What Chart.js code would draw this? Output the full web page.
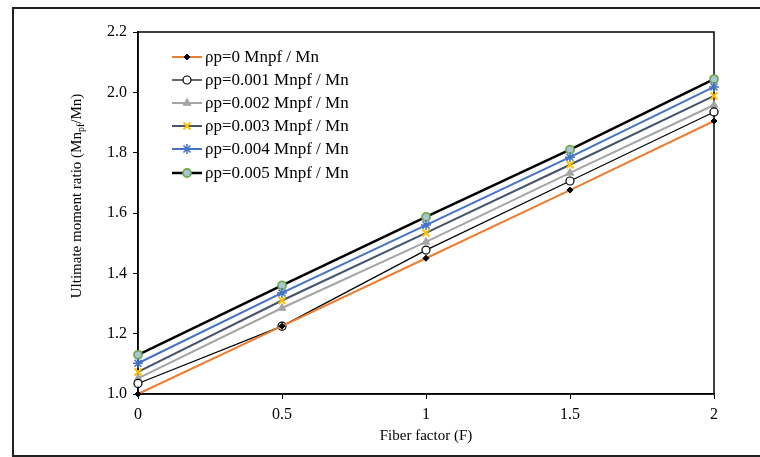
<!DOCTYPE html>
<html>
<head>
<meta charset="utf-8">
<script src="https://cdn.jsdelivr.net/npm/chart.js@4.4.1/dist/chart.umd.min.js"></script>
<style>
  html, body { margin: 0; padding: 0; background: #fff; }
  #wrap { position: relative; width: 760px; height: 457px; overflow: hidden; }
  #frame { position: absolute; left: 12px; top: 7px; width: 800px; height: 446px; border: 2px solid #222; box-sizing: content-box; }
  canvas { position: absolute; left: 0; top: 0; }
</style>
</head>
<body>
<div id="wrap">
  <div id="frame"></div>
  <canvas id="chart" width="760" height="457"></canvas>
</div>
<script>
// --- Data ---
const fiberFactor = [0, 0.5, 1, 1.5, 2];
const yTicks = [1.0, 1.2, 1.4, 1.6, 1.8, 2.0, 2.2];
const xTicks = [0, 0.5, 1, 1.5, 2];

const rp0   = [1.000, 1.225, 1.450, 1.676, 1.905];
const rp001 = [1.035, 1.225, 1.477, 1.706, 1.935];
const rp002 = [1.052, 1.285, 1.504, 1.733, 1.958];
const rp003 = [1.073, 1.310, 1.534, 1.760, 1.988];
const rp004 = [1.102, 1.335, 1.560, 1.785, 2.018];
const rp005 = [1.130, 1.360, 1.587, 1.810, 2.044];

const labels = [
    'ρp=0 Mnpf / Mn',
    'ρp=0.001 Mnpf / Mn',
    'ρp=0.002 Mnpf / Mn',
    'ρp=0.003 Mnpf / Mn',
    'ρp=0.004 Mnpf / Mn',
    'ρp=0.005 Mnpf / Mn'
];

const FONT = "'Liberation Serif', 'Times New Roman', serif";

function pts(arr) {
    return arr.map((v, i) => ({ x: fiberFactor[i], y: v }));
}

const datasets = [
    { label: labels[0], data: pts(rp0), borderColor: '#ED7D31', borderWidth: 2,
      pointStyle: 'rectRot', pointRadius: 3, pointBackgroundColor: '#000', pointBorderColor: '#000', pointBorderWidth: 1 },
    { label: labels[1], data: pts(rp001), borderColor: '#000', borderWidth: 1.2,
      pointStyle: 'circle', pointRadius: 4, pointBackgroundColor: '#fff', pointBorderColor: '#000', pointBorderWidth: 1.2 },
    { label: labels[2], data: pts(rp002), borderColor: '#A5A5A5', borderWidth: 2,
      pointStyle: 'triangle', pointRadius: 4.5, pointBackgroundColor: '#A5A5A5', pointBorderColor: '#A5A5A5', pointBorderWidth: 1 },
    { label: labels[3], data: pts(rp003), borderColor: '#44546A', borderWidth: 2,
      pointStyle: 'crossRot', pointRadius: 5, pointBackgroundColor: '#FFC000', pointBorderColor: '#FFC000', pointBorderWidth: 2 },
    { label: labels[4], data: pts(rp004), borderColor: '#4472C4', borderWidth: 2,
      pointStyle: 'star', pointRadius: 5, pointBackgroundColor: '#4472C4', pointBorderColor: '#4472C4', pointBorderWidth: 1.5 },
    { label: labels[5], data: pts(rp005), borderColor: '#000', borderWidth: 2.5,
      pointStyle: 'circle', pointRadius: 4, pointBackgroundColor: '#A9C4DC', pointBorderColor: '#70AD47', pointBorderWidth: 1.8 }
];
datasets.forEach(ds => { ds.clip = false; });

// --- Plugins ---
// box around plot area
const frameBox = {
    id: 'frameBox',
    beforeDatasetsDraw(chart) {
        const { ctx, chartArea: a } = chart;
        ctx.save();
        ctx.strokeStyle = '#000';
        ctx.lineWidth = 1.5;
        ctx.strokeRect(a.left, a.top, a.right - a.left, a.bottom - a.top);
        ctx.restore();
    }
};

// legend with line + marker, top-left inside plot
const lineLegend = {
    id: 'lineLegend',
    afterDraw(chart) {
        const ctx = chart.ctx;
        const x0 = 172, x1 = 202, tx = 205;
        const rowY = [57, 80, 103, 126, 149, 173];
        ctx.save();
        chart.data.datasets.forEach((ds, i) => {
            const y = rowY[i];
            ctx.beginPath();
            ctx.strokeStyle = ds.borderColor;
            ctx.lineWidth = ds.borderWidth;
            ctx.moveTo(x0, y);
            ctx.lineTo(x1, y);
            ctx.stroke();
            ctx.fillStyle = ds.pointBackgroundColor;
            ctx.strokeStyle = ds.pointBorderColor;
            ctx.lineWidth = ds.pointBorderWidth;
            Chart.helpers.drawPoint(ctx, {
                pointStyle: ds.pointStyle, radius: ds.pointRadius,
                borderWidth: ds.pointBorderWidth, rotation: 0
            }, (x0 + x1) / 2, y);
            ctx.fillStyle = '#000';
            ctx.font = '17px ' + FONT;
            ctx.textBaseline = 'middle';
            ctx.textAlign = 'left';
            ctx.fillText(ds.label, tx, y + 1);
        });
        ctx.restore();
    }
};

// y axis title with subscript
const yTitle = {
    id: 'yTitle',
    afterDraw(chart) {
        const ctx = chart.ctx;
        const parts = [
            { t: 'Ultimate moment ratio (Mn', size: 15, dy: 0 },
            { t: 'pf', size: 10, dy: 3 },
            { t: '/Mn)', size: 15, dy: 0 }
        ];
        ctx.save();
        let total = 0;
        parts.forEach(p => { ctx.font = p.size + 'px ' + FONT; total += ctx.measureText(p.t).width; });
        ctx.translate(76, 196);
        ctx.rotate(-Math.PI / 2);
        ctx.fillStyle = '#000';
        ctx.textBaseline = 'alphabetic';
        ctx.textAlign = 'left';
        let x = -total / 2;
        parts.forEach(p => {
            ctx.font = p.size + 'px ' + FONT;
            ctx.fillText(p.t, x, 5 + p.dy);
            x += ctx.measureText(p.t).width;
        });
        ctx.restore();
    }
};

// x axis title
const xTitle = {
    id: 'xTitle',
    afterDraw(chart) {
        const c = chart.ctx, a = chart.chartArea;
        c.save();
        c.fillStyle = '#000';
        c.font = '15px ' + FONT;
        c.textAlign = 'center';
        c.textBaseline = 'middle';
        c.fillText('Fiber factor (F)', (a.left + a.right) / 2, 436);
        c.restore();
    }
};

// --- Chart ---
const ctx = document.getElementById('chart').getContext('2d');
new Chart(ctx, {
    type: 'line',
    data: { datasets: datasets },
    options: {
        responsive: false,
        animation: false,
        layout: { padding: { left: 0, right: 46, top: 32, bottom: 0 } },
        plugins: {
            legend: { display: false },
            tooltip: { enabled: false }
        },
        elements: { line: { tension: 0 } },
        scales: {
            x: {
                type: 'linear',
                min: 0, max: 2,
                afterBuildTicks: s => { s.ticks = xTicks.map(v => ({ value: v })); },
                afterFit: s => { s.height = 63; },
                border: { display: true, color: '#000', width: 1.5 },
                grid: { display: true, drawOnChartArea: false, drawTicks: true, tickLength: 5, color: '#000', lineWidth: 1 },
                ticks: {
                    color: '#000', padding: 6,
                    font: { family: FONT, size: 16 },
                    callback: v => String(v)
                },
                title: { display: false }
            },
            y: {
                type: 'linear',
                min: 1.0, max: 2.2,
                afterBuildTicks: s => { s.ticks = yTicks.map(v => ({ value: v })); },
                afterFit: s => { s.width = 138; },
                border: { display: true, color: '#000', width: 1.5 },
                grid: { display: true, drawOnChartArea: false, drawTicks: true, tickLength: 5, color: '#000', lineWidth: 1 },
                ticks: {
                    color: '#000', padding: 6,
                    font: { family: FONT, size: 16 },
                    callback: v => Number(v).toFixed(1)
                }
            }
        }
    },
    plugins: [frameBox, lineLegend, yTitle, xTitle]
});
</script>
</body>
</html>
